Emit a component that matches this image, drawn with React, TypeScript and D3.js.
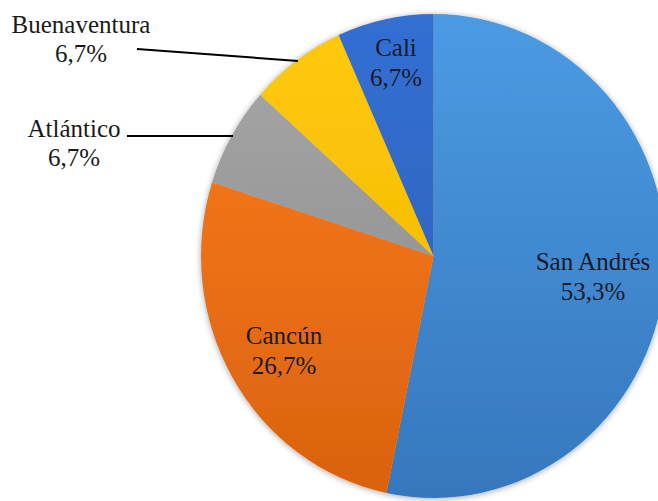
import React from "react";
import * as d3 from "d3";

const categories = ["San Andrés", "Cancún", "Atlántico", "Buenaventura", "Cali"];
const values = [53.3, 26.7, 6.7, 6.7, 6.7];
const labels = ["53,3%", "26,7%", "6,7%", "6,7%", "6,7%"];
const colorsTop = ["#4b9be3", "#ff7d1c", "#a9a9a9", "#ffca0a", "#336fd3"];
const colorsBottom = ["#3677bd", "#d9620f", "#858585", "#eeb400", "#2b5fb3"];

const W = 658;
const H = 501;
const cx = 433.5;
const cy = 256;
const r = 232.5;
const sy = 242 / 232.5;
const FONT = "Liberation Serif";

export default function App() {
  const pie = d3.pie<number>().sort(null).value((d) => d);
  const arcs = pie(values);
  const arc = d3.arc<d3.PieArcDatum<number>>().innerRadius(0).outerRadius(r);

  const inside: Record<number, { x: number; y: number }> = {
    0: { x: 593, y: 270 },
    1: { x: 284, y: 344 },
    4: { x: 396, y: 56 },
  };
  const outside: Record<number, { x: number; y: number; line: [number, number, number, number] }> = {
    2: { x: 74, y: 137, line: [127, 136, 233, 136] },
    3: { x: 81, y: 33, line: [137, 49, 298, 61] },
  };

  const twoLines = (x: number, y: number, a: string, b: string, dy: number, fill: string, key: string) => (
    <g key={key}>
      <text x={x} y={y} style={{ fontFamily: FONT, fontSize: 25 }} fill={fill} textAnchor="middle">{a}</text>
      <text x={x} y={y + dy} style={{ fontFamily: FONT, fontSize: 25 }} fill={fill} textAnchor="middle">{b}</text>
    </g>
  );

  return (
    <svg width={W} height={H} style={{ display: "block", position: "absolute", left: 0, top: 0, background: "#fff", fontFamily: FONT }}>
      <defs>
        {categories.map((c, i) => (
          <linearGradient key={c} id={`g${i}`} gradientUnits="userSpaceOnUse" x1={0} y1={-r} x2={0} y2={r}>
            <stop offset="0" stopColor={colorsTop[i]} />
            <stop offset="1" stopColor={colorsBottom[i]} />
          </linearGradient>
        ))}
        <filter id="sh" x="-20%" y="-20%" width="140%" height="140%">
          <feGaussianBlur in="SourceAlpha" stdDeviation="3" />
          <feOffset dx="0" dy="1" result="b" />
          <feComponentTransfer>
            <feFuncA type="linear" slope="0.35" />
          </feComponentTransfer>
          <feMerge>
            <feMergeNode />
            <feMergeNode in="SourceGraphic" />
          </feMerge>
        </filter>
      </defs>
      <g transform={`translate(${cx},${cy}) scale(1,${sy})`} filter="url(#sh)">
        {arcs.map((a, i) => (
          <path key={categories[i]} d={arc(a) || ""} fill={`url(#g${i})`} />
        ))}
      </g>
      {arcs.map((a, i) => {
        if (inside[i]) {
          const p = inside[i];
          return twoLines(p.x, p.y, categories[i], labels[i], 30, "#1a1a2a", "t" + i);
        }
        const o = outside[i];
        return (
          <g key={"o" + i}>
            <line x1={o.line[0]} y1={o.line[1]} x2={o.line[2]} y2={o.line[3]} stroke="#000" strokeWidth={2} />
            {twoLines(o.x, o.y, categories[i], labels[i], 29, "#1a1a1a", "l" + i)}
          </g>
        );
      })}
    </svg>
  );
}
